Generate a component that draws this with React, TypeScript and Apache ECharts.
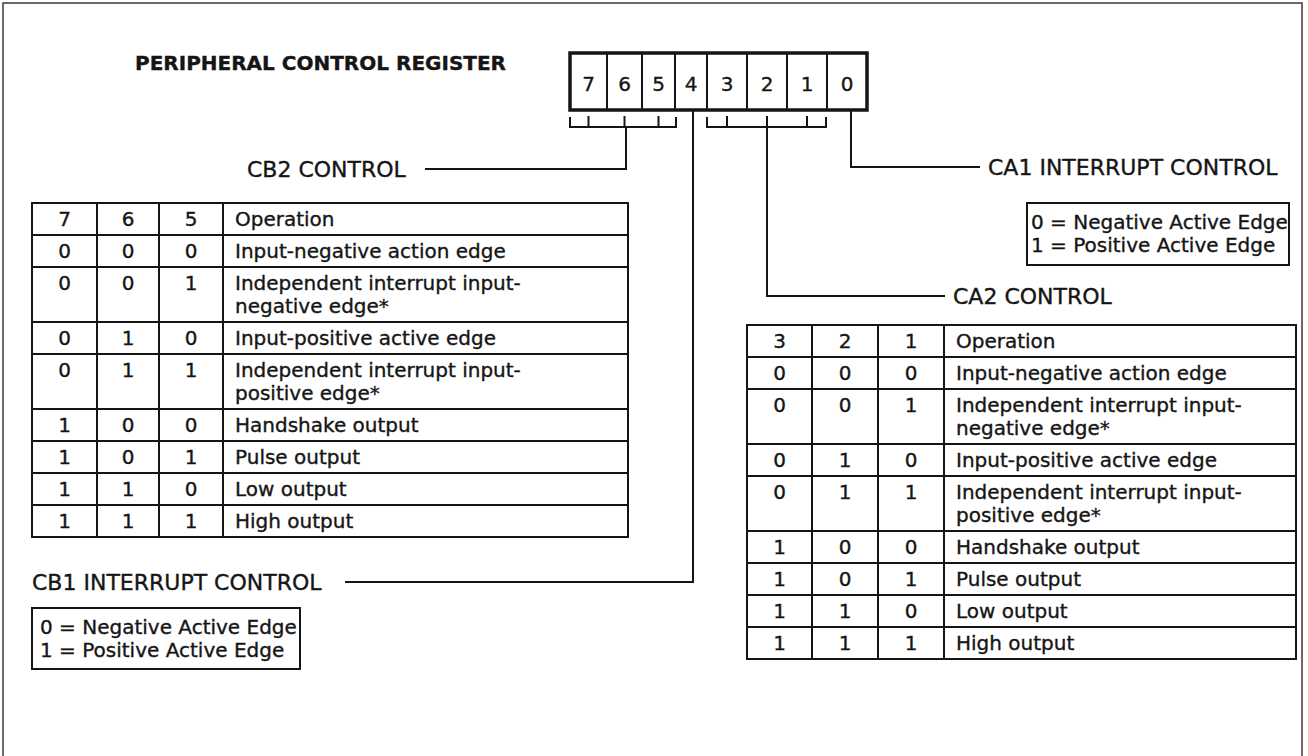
import React, { useEffect, useRef } from "react";
import * as echarts from "echarts";

// ---------- content ----------
const titleText = "PERIPHERAL CONTROL REGISTER";
const registerBits = ["7", "6", "5", "4", "3", "2", "1", "0"];
const cbHeader = ["7", "6", "5", "Operation"];
const caHeader = ["3", "2", "1", "Operation"];
const bitPatterns = [
  [0, 0, 0],
  [0, 0, 1],
  [0, 1, 0],
  [0, 1, 1],
  [1, 0, 0],
  [1, 0, 1],
  [1, 1, 0],
  [1, 1, 1],
];
const operations = [
  "Input-negative action edge",
  "Independent interrupt input-\nnegative edge*",
  "Input-positive active edge",
  "Independent interrupt input-\npositive edge*",
  "Handshake output",
  "Pulse output",
  "Low output",
  "High output",
];
const edgeLegend = ["0 = Negative Active Edge", "1 = Positive Active Edge"];
const labelCB2 = "CB2 CONTROL";
const labelCB1 = "CB1 INTERRUPT CONTROL";
const labelCA1 = "CA1 INTERRUPT CONTROL";
const labelCA2 = "CA2 CONTROL";

// ---------- layout ----------
const FONT = '"DejaVu Sans", "Liberation Sans", sans-serif';
const INK = "#151515";
const REG_EDGES = [570, 607, 642, 675, 707, 747, 787, 827, 867];
const REG_TOP = 53;
const REG_BOTTOM = 110;
const LEFT_COLS = [32, 97, 159, 223, 628];
const LEFT_TOP = 203;
const RIGHT_COLS = [747, 812, 878, 944, 1296];
const RIGHT_TOP = 325;
const ROW_H = 32;
const ROW_H2 = 55;
const LINE_GAP = 23;

function txt(text: string, x: number, y: number, size: number, align = "left", weight = "normal") {
  return {
    type: "text",
    silent: true,
    x,
    y,
    style: {
      text,
      fill: INK,
      stroke: INK,
      lineWidth: 0.35,
      font: `${weight} ${size}px ${FONT}`,
      textAlign: align,
      textVerticalAlign: "middle",
      align,
      verticalAlign: "middle",
    },
  };
}

function ln(x1: number, y1: number, x2: number, y2: number, w = 2, color = INK) {
  return {
    type: "line",
    silent: true,
    shape: { x1, y1, x2, y2 },
    style: { stroke: color, lineWidth: w, lineCap: "square" },
  };
}

function poly(points: number[][], w = 2) {
  return {
    type: "polyline",
    silent: true,
    shape: { points },
    style: { stroke: INK, lineWidth: w, fill: null },
  };
}

function buildTable(cols: number[], top: number, header: string[]) {
  const els: any[] = [];
  const rows = [header, ...bitPatterns.map((b, i) => [...b.map(String), operations[i]])];
  let y = top;
  const tops: number[] = [];
  rows.forEach((r) => {
    const lines = r[3].split("\n");
    const dbl = lines.length > 1;
    const h = dbl ? ROW_H2 : ROW_H;
    const firstY = dbl ? y + 16 : y + h / 2;
    for (let c = 0; c < 3; c++) {
      els.push(txt(r[c], (cols[c] + cols[c + 1]) / 2, firstY, 20, "center"));
    }
    lines.forEach((t, k) => els.push(txt(t, cols[3] + 12, firstY + LINE_GAP * k, 20)));
    tops.push(y);
    y += h;
  });
  tops.push(y);
  tops.forEach((yy) => els.push(ln(cols[0], yy, cols[4], yy, 2)));
  cols.forEach((xx) => els.push(ln(xx, top, xx, y, 2)));
  return els;
}

function buildLegend(x: number, y: number, w: number, h: number, pad: number) {
  return [
    {
      type: "rect",
      silent: true,
      shape: { x, y, width: w, height: h },
      style: { fill: null, stroke: INK, lineWidth: 2 },
    },
    txt(edgeLegend[0], x + pad, y + 19, 20),
    txt(edgeLegend[1], x + pad, y + 42, 20),
  ];
}

function buildElements() {
  const els: any[] = [];
  // outer frame
  els.push({
    type: "rect",
    silent: true,
    shape: { x: 3, y: 3, width: 1299, height: 770 },
    style: { fill: null, stroke: "#3a3a3a", lineWidth: 1.5 },
  });
  // title
  els.push(txt(titleText, 135, 63, 20, "left", "bold"));

  // register
  for (let i = 1; i < REG_EDGES.length - 1; i++) {
    els.push(ln(REG_EDGES[i], REG_TOP, REG_EDGES[i], REG_BOTTOM, 2));
  }
  els.push({
    type: "rect",
    silent: true,
    shape: {
      x: REG_EDGES[0],
      y: REG_TOP,
      width: REG_EDGES[REG_EDGES.length - 1] - REG_EDGES[0],
      height: REG_BOTTOM - REG_TOP,
    },
    style: { fill: null, stroke: INK, lineWidth: 3.5 },
  });
  registerBits.forEach((b, i) => {
    els.push(txt(b, (REG_EDGES[i] + REG_EDGES[i + 1]) / 2, 84, 20, "center"));
  });

  // brackets
  const bTop = 117;
  const bY = 127;
  const center = (i: number) => (REG_EDGES[i] + REG_EDGES[i + 1]) / 2;
  // CB2 bracket (bits 7,6,5)
  els.push(poly([[REG_EDGES[0], bTop], [REG_EDGES[0], bY], [676, bY], [676, bTop]]));
  [0, 1, 2].forEach((i) => els.push(ln(center(i), bTop, center(i), bY)));
  els.push(poly([[626, bY], [626, 169], [425, 169]]));
  els.push(txt(labelCB2, 247, 169, 22));

  // CA2 bracket (bits 3,2,1)
  els.push(poly([[REG_EDGES[4], bTop], [REG_EDGES[4], bY], [826, bY], [826, bTop]]));
  [4, 5, 6].forEach((i) => els.push(ln(center(i), bTop, center(i), bY)));
  els.push(poly([[767, bY], [767, 296], [945, 296]]));
  els.push(txt(labelCA2, 953, 296, 22));

  // CA1 (bit 0)
  els.push(poly([[851, REG_BOTTOM], [851, 167], [980, 167]]));
  els.push(txt(labelCA1, 988, 167, 22));

  // CB1 (bit 4)
  els.push(poly([[693, REG_BOTTOM], [693, 582], [345, 582]]));
  els.push(txt(labelCB1, 32, 582, 22));

  // tables
  els.push(...buildTable(LEFT_COLS, LEFT_TOP, cbHeader));
  els.push(...buildTable(RIGHT_COLS, RIGHT_TOP, caHeader));

  // legends
  els.push(...buildLegend(32, 608, 268, 61, 8));
  els.push(...buildLegend(1027, 203, 262, 62, 4));
  return els;
}

export default function App() {
  const ref = useRef<HTMLDivElement>(null);
  useEffect(() => {
    if (!ref.current) return;
    const chart = echarts.init(ref.current, null, { renderer: "svg" });
    chart.setOption({
      animation: false,
      backgroundColor: "#ffffff",
      graphic: { elements: buildElements() },
    });
    return () => chart.dispose();
  }, []);
  return (
    <div
      ref={ref}
      style={{ position: "absolute", left: 0, top: 0, width: 1308, height: 756, background: "#fff" }}
    />
  );
}
